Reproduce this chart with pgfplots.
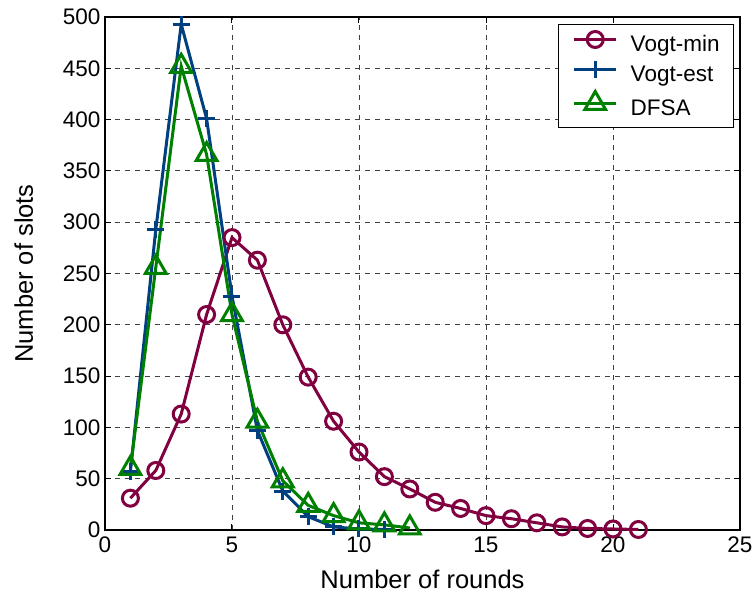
\documentclass[border=0pt]{standalone}
\usepackage{pgfplots}
\pgfplotsset{compat=1.18}
\usepackage{fontspec}
\setmainfont{Liberation Sans}

\definecolor{vmin}{RGB}{128,0,64}
\definecolor{vest}{RGB}{0,64,128}
\definecolor{dfsa}{RGB}{0,128,0}

\begin{document}
\begin{tikzpicture}
\begin{axis}[
  scale only axis,
  width=635pt, height=513pt,
  xmin=0, xmax=25, ymin=0, ymax=500,
  xtick={0,5,...,25},
  ytick={0,50,...,500},
  /pgf/number format/assume math mode=true,
  tick label style={font=\fontsize{22.5}{26}\selectfont},
  label style={font=\fontsize{25.5}{30}\selectfont},
  xlabel={Number of rounds},
  ylabel={Number of slots},
  xlabel style={at={([yshift=-58pt]axis description cs:0.5,0)}, anchor=base},
  ylabel style={at={([xshift=-72pt]axis description cs:0,0.5)}, anchor=base},
  xticklabel style={yshift=-3pt},
  yticklabel style={xshift=-1pt},
  tick align=inside,
  major tick length=6pt,
  axis line style={line width=1.2pt},
  every tick/.style={black, line width=1pt},
  grid=major,
  major grid style={black!75, line width=0.9pt, dash pattern=on 5pt off 5pt},
  clip=false,
  legend cell align=left,
  legend style={
    at={(axis description cs:0.9906,0.9864)}, anchor=north east,
    font=\fontsize{22.5}{26}\selectfont,
    draw=black, line width=1pt,
    inner xsep=14pt, inner ysep=7pt,
    column sep=13pt,
    row sep=5pt,
    nodes={inner sep=0pt, text height=16.5pt, text depth=5pt},
  },
  legend image code/.code={%
    \draw[mark repeat=2, mark phase=2]
      plot coordinates {(0pt,6pt) (21pt,6pt) (42pt,6pt)};},
]

% minimum-based estimator
\addplot[color=vmin, line width=3pt, mark=o, mark size=8pt,
  mark options={solid, line width=3pt}] coordinates {
  (1,31) (2,58) (3,113) (4,210) (5,285) (6,263) (7,200) (8,149)
  (9,106) (10,76) (11,52) (12,40) (13,27) (14,21) (15,14) (16,11)
  (17,7) (18,3) (19,1.5) (20,1) (21,0.5)
};
\addlegendentry{Vogt-min}

% estimate-based
\addplot[color=vest, line width=3pt, mark=+, mark size=8.5pt,
  mark options={solid, line width=3pt}] coordinates {
  (1,57) (2,293) (3,493) (4,401) (5,228) (6,97) (7,38) (8,13)
  (9,3) (10,1) (11,0.5)
};
\addlegendentry{Vogt-est}

% dynamic framed slotted ALOHA
\addplot[color=dfsa, line width=3pt, mark=triangle, mark size=12pt,
  mark options={solid, line width=3pt}] coordinates {
  (1,60) (2,256) (3,452) (4,366) (5,210) (6,106) (7,48) (8,24)
  (9,14) (10,7) (11,5) (12,2)
};
\addlegendentry{DFSA}

\end{axis}
\pgfresetboundingbox
\path (-105pt,-65pt) rectangle (651pt,530pt);
\end{tikzpicture}
\end{document}
